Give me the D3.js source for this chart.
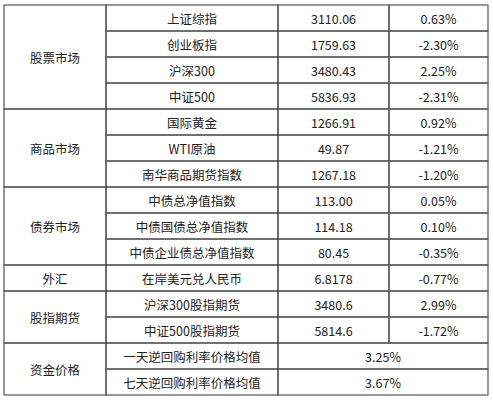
<!DOCTYPE html>
<html><head><meta charset="utf-8">
<script src="https://cdn.jsdelivr.net/npm/d3@7"></script>
<style>body{margin:0;background:#fff}text{font-family:"Noto Sans CJK SC","Noto Sans",sans-serif;font-size:12.5px;fill:#222}</style>
</head><body><svg width="493" height="400"></svg>
<script>
const groups = [["股票市场",4],["商品市场",3],["债券市场",3],["外汇",1],["股指期货",2],["资金价格",2]]
const names = ["上证综指","创业板指","沪深300","中证500","国际黄金","WTI原油","南华商品期货指数","中债总净值指数","中债国债总净值指数","中债企业债总净值指数","在岸美元兑人民币","沪深300股指期货","中证500股指期货","一天逆回购利率价格均值","七天逆回购利率价格均值"]
const values = ["3110.06","1759.63","3480.43","5836.93","1266.91","49.87","1267.18","113.00","114.18","80.45","6.8178","3480.6","5814.6","3.25%","3.67%"]
const changes = ["0.63%","-2.30%","2.25%","-2.31%","0.92%","-1.21%","-1.20%","0.05%","0.10%","-0.35%","-0.77%","2.99%","-1.72%",null,null]

const svg = d3.select("svg")
const cols = [4,106,278,389,488]
const y = d3.scaleLinear().domain([0,names.length]).range([5,395])
const g = svg.append("g").attr("stroke","#555").attr("stroke-width",1.2)

let start = 0
groups.forEach(([label,n]) => {
  g.append("rect").attr("x",cols[0]).attr("y",y(start)).attr("width",cols[1]-cols[0]).attr("height",y(start+n)-y(start)).attr("fill","none")
  svg.append("text").attr("x",(cols[0]+cols[1])/2).attr("y",(y(start)+y(start+n))/2).attr("text-anchor","middle").attr("dominant-baseline","central").text(label)
  start += n
})

names.forEach((nm,i) => {
  const y0 = y(i), y1 = y(i+1), cy = (y0+y1)/2
  g.append("rect").attr("x",cols[1]).attr("y",y0).attr("width",cols[2]-cols[1]).attr("height",y1-y0).attr("fill","none")
  svg.append("text").attr("x",(cols[1]+cols[2])/2).attr("y",cy).attr("text-anchor","middle").attr("dominant-baseline","central").text(nm)
  if (changes[i] == null) {
    g.append("rect").attr("x",cols[2]).attr("y",y0).attr("width",cols[4]-cols[2]).attr("height",y1-y0).attr("fill","none")
    svg.append("text").attr("x",(cols[2]+cols[4])/2).attr("y",cy).attr("text-anchor","middle").attr("dominant-baseline","central").text(values[i])
  } else {
    g.append("rect").attr("x",cols[2]).attr("y",y0).attr("width",cols[3]-cols[2]).attr("height",y1-y0).attr("fill","none")
    g.append("rect").attr("x",cols[3]).attr("y",y0).attr("width",cols[4]-cols[3]).attr("height",y1-y0).attr("fill","none")
    svg.append("text").attr("x",(cols[2]+cols[3])/2).attr("y",cy).attr("text-anchor","middle").attr("dominant-baseline","central").text(values[i])
    svg.append("text").attr("x",(cols[3]+cols[4])/2).attr("y",cy).attr("text-anchor","middle").attr("dominant-baseline","central").text(changes[i])
  }
})
</script></body></html>
